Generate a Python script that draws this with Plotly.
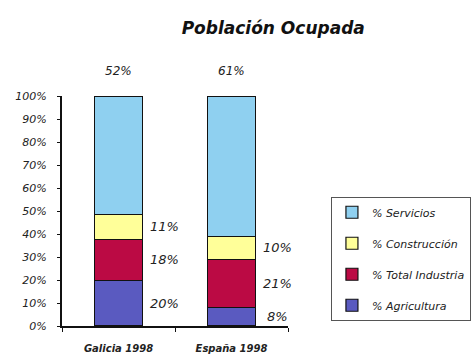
import plotly.graph_objects as go

# Occupied population by sector (%), 1998
categories = ["Galicia 1998", "España 1998"]
sectors = ["% Agricultura", "% Total Industria", "% Construcción", "% Servicios"]
agricultura = [20, 8]
industria = [18, 21]
construccion = [11, 10]
servicios = [52, 61]

series = [agricultura, industria, construccion, servicios]
colors = ["#5a5ac0", "#bb0a44", "#ffff99", "#8fd0f0"]

FONT = "DejaVu Sans"
TXT = "#222222"

fig = go.Figure()
for k, (name, vals, col) in enumerate(zip(sectors, series, colors)):
    fig.add_trace(go.Bar(
        x=categories, y=vals, name=name, legendgroup=name,
        legendrank=len(sectors) - k,
        marker=dict(color=col, line=dict(color="#111111", width=1.2)),
        width=0.425,
    ))

# Value labels: services above each bar, other sectors beside their segment
annotations = []
totals = [sum(s[i] for s in series) for i in range(len(categories))]
for i, cat in enumerate(categories):
    annotations.append(dict(
        x=i, y=100, yref="y", xref="x", text=f"{servicios[i]}%",
        showarrow=False, yshift=25,
        font=dict(family=FONT, size=12, color=TXT, style="italic"),
    ))
    base = 0
    for vals in series[:3]:
        mid = (base + vals[i] / 2) * 100 / totals[i]
        annotations.append(dict(
            x=i, y=mid, xref="x", yref="y", text=f"{vals[i]}%",
            showarrow=False, xshift=46,
            font=dict(family=FONT, size=13, color=TXT, style="italic"),
        ))
        base += vals[i]

fig.update_layout(
    width=476, height=358,
    margin=dict(l=62, r=188, t=96, b=32, autoexpand=False),
    paper_bgcolor="white", plot_bgcolor="white",
    barmode="stack", barnorm="percent",
    title=dict(
        text="<b><i>Población Ocupada</i></b>",
        x=0.574, xanchor="center", xref="container",
        y=1 - 28 / 358, yanchor="middle", yref="container",
        font=dict(family=FONT, size=17, color="#111111"),
    ),
    showlegend=True,
    legend=dict(
        x=1.19, y=0.562, xanchor="left", yanchor="top",
        traceorder="grouped", tracegroupgap=12,
        bordercolor="#555555", borderwidth=1,
        font=dict(family=FONT, size=11, color=TXT, style="italic"),
        itemwidth=30, entrywidth=125, entrywidthmode="pixels",
    ),
    annotations=annotations,
    font=dict(family=FONT),
)
fig.update_xaxes(
    range=[-0.5, 1.5], showline=True, linecolor="#111111", linewidth=2,
    ticks="outside", ticklen=4, tickcolor="#111111", tickson="boundaries",
    tickfont=dict(family=FONT, size=10, color=TXT, style="italic", weight="bold"),
    ticklabelstandoff=12, showgrid=False, automargin=False,
)
fig.update_yaxes(
    range=[0, 100], dtick=10, ticksuffix="%", showline=True, linecolor="#111111",
    linewidth=2, ticks="outside", ticklen=3, tickcolor="#111111",
    tickfont=dict(family=FONT, size=11, color=TXT, style="italic"),
    ticklabelstandoff=8, showgrid=False, zeroline=False, automargin=False,
)

fig.write_html("out.html")
